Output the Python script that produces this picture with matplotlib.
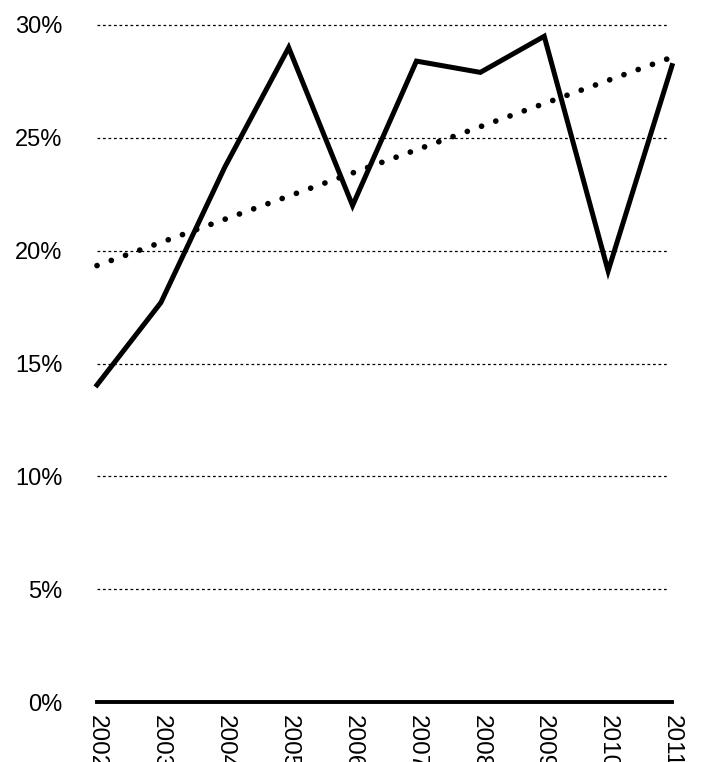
import numpy as np
import matplotlib.pyplot as plt

plt.rcParams['font.family'] = ['Liberation Sans', 'DejaVu Sans']

# data
years = [2002, 2003, 2004, 2005, 2006, 2007, 2008, 2009, 2010, 2011]
share = [14.05, 17.7, 23.7, 29.0, 22.0, 28.4, 27.9, 29.5, 19.1, 28.2]
y_ticks = [0, 5, 10, 15, 20, 25, 30]

fig = plt.figure(figsize=(7.05, 7.62), dpi=100)
ax = fig.add_axes([0.1376, 0.0787, 0.8156, 0.8885])

# dotted grid lines
for t in y_ticks[1:]:
    ax.axhline(t, xmin=0, xmax=0.992, color='black', lw=0.9,
               linestyle=(0, (2.2, 2.2)), zorder=1)

ax.plot(years, share, color='black', lw=3.6, solid_joinstyle='miter', zorder=3)

# linear trend
k, b = np.polyfit(years, share, 1)
trend = [k * x + b for x in years]
ax.plot(years, trend, color='black', lw=4.1, linestyle=(0, (0.01, 2.65)),
        dash_capstyle='round', zorder=2)

ax.set_xlim(2002, 2011)
ax.set_ylim(0, 30)
ax.set_yticks(y_ticks)
ax.set_yticklabels([f'{t}%' for t in y_ticks], fontsize=17)
ax.set_xticks(years)
ax.set_xticklabels([str(y) for y in years], rotation=-90, fontsize=17.5,
                   va='top', ha='center')
ax.tick_params(axis='y', length=0, pad=25)
ax.tick_params(axis='x', length=0, pad=9)

for s in ['top', 'right', 'left']:
    ax.spines[s].set_visible(False)
ax.spines['bottom'].set_linewidth(2.8)
ax.spines['bottom'].set_zorder(4)
for line in ax.lines:
    line.set_clip_on(False)

fig.savefig('out.png', dpi=100)
